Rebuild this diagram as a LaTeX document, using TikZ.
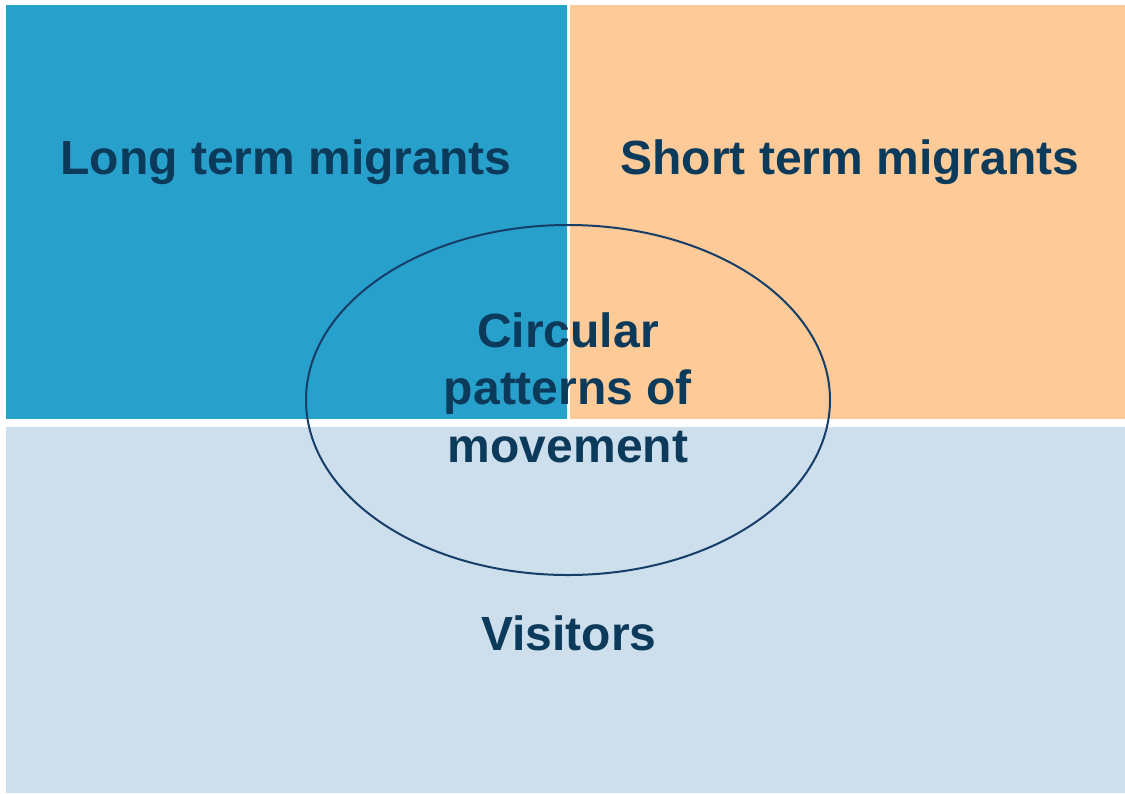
\documentclass[tikz,border=0pt]{standalone}
\usepackage{fontspec}
\setmainfont{Liberation Sans}
\usetikzlibrary{shapes.geometric}
\definecolor{cblue}{RGB}{40,160,204}
\definecolor{corange}{RGB}{253,202,152}
\definecolor{clight}{RGB}{205,223,236}
\definecolor{ctext}{RGB}{12,58,90}
\definecolor{cline}{RGB}{22,62,104}
\tikzset{
  lbl/.style={font=\fontsize{48}{57.5}\selectfont\bfseries, text=ctext, anchor=base, inner sep=0pt, align=center},
  panel/.style={draw=none}
}
\begin{document}
\begin{tikzpicture}[x=1pt,y=-1pt]
\useasboundingbox (0,0) rectangle (1125,793);
\fill[white] (0,0) rectangle (1125,793);
\fill[cblue] (5.5,5) rectangle (567,419) coordinate (tl);
\fill[corange] (569.5,5) rectangle (1125,419) coordinate (tr);
\fill[clight] (5.5,427) rectangle (1125,793) coordinate (bt);
\node[draw=cline, line width=2pt, ellipse, minimum width=524pt, minimum height=350pt, inner sep=0pt] (ell) at (568,400) {};
\node[lbl] (long) at (286,174) {Long term migrants};
\node[lbl] (short) at (850,174) {Short term migrants};
\node[lbl] (circ1) at (568,347) {Circular};
\node[lbl] (circ2) at (568,404.5) {patterns of};
\node[lbl] (circ3) at (568,462) {movement};
\node[lbl] (vis) at (569,650) {Visitors};
\end{tikzpicture}
\end{document}
